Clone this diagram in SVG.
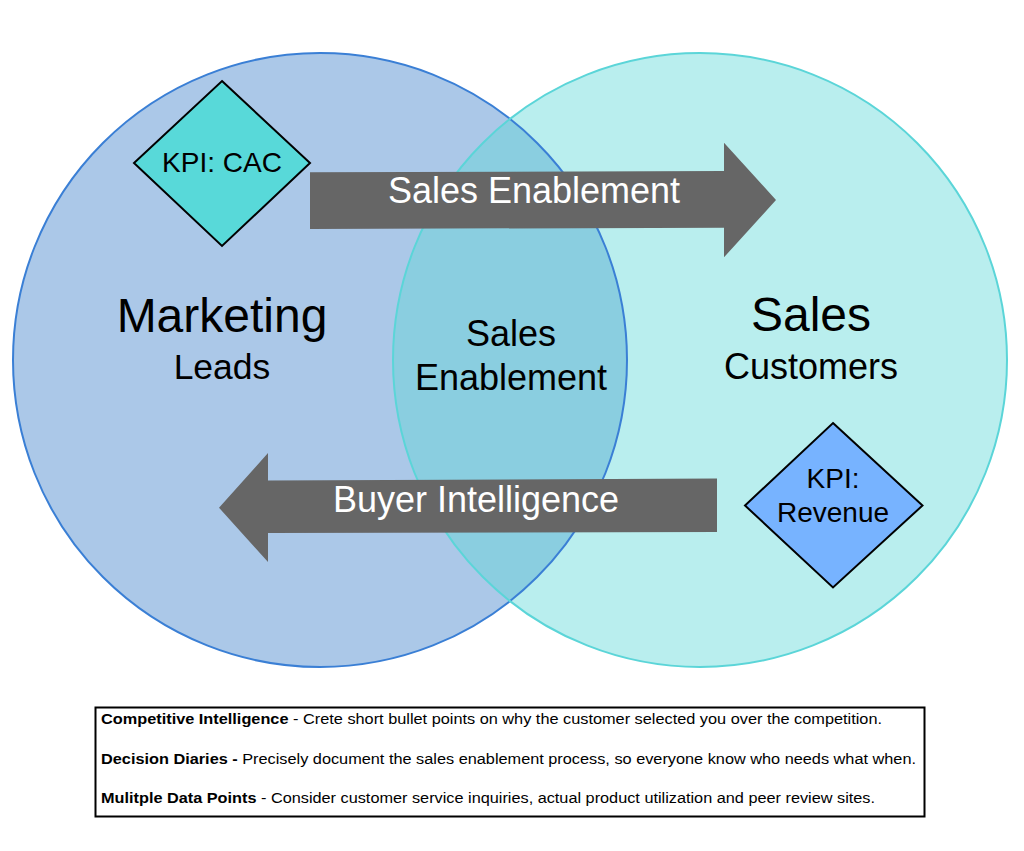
<svg xmlns="http://www.w3.org/2000/svg" width="1024" height="851" viewBox="0 0 1024 851">
<style>
text{font-family:"Liberation Sans",Arial,sans-serif;fill:#000}
.arrow{fill:#666666}
.atxt{fill:#ffffff;font-size:36px;text-anchor:middle}
.big{font-size:48px;text-anchor:middle}
.mid{font-size:36px;text-anchor:middle}
.kpi{font-size:28px;text-anchor:middle}
.dia{stroke:#000;stroke-width:2;stroke-linejoin:miter}
.leg{font-size:15.5px}
.b{font-weight:bold}
</style>
<defs>
<clipPath id="clipL"><circle cx="320" cy="360" r="307"/></clipPath>
</defs>
<rect width="1024" height="851" fill="#ffffff"/>
<g id="marketing-circle">
<circle cx="320" cy="360" r="307" fill="#abc8e8"/>
</g>
<g id="sales-circle">
<circle cx="700" cy="360" r="307" fill="#b9eeee"/>
</g>
<g id="overlap">
<circle cx="700" cy="360" r="307" fill="#8acee0" clip-path="url(#clipL)"/>
<circle cx="320" cy="360" r="307" fill="none" stroke="#3a7fd5" stroke-width="2"/>
<circle cx="700" cy="360" r="307" fill="none" stroke="#5bd5d8" stroke-width="2"/>
</g>
<g id="marketing-label">
<text class="big" x="222" y="332">Marketing</text>
<text class="mid" x="222" y="379" style="font-size:35.5px">Leads</text>
</g>
<g id="sales-label">
<text class="big" x="811" y="331">Sales</text>
<text class="mid" x="811" y="379">Customers</text>
</g>
<g id="overlap-label">
<text class="mid" x="511" y="346">Sales</text>
<text class="mid" x="511" y="390">Enablement</text>
</g>
<g id="connectors">
<g id="sales-enablement-arrow">
<polygon class="arrow" points="310,172.3 724,171 724,142.7 776,200 724,257.3 724,227.7 310,229"/>
<text class="atxt" x="534" y="203">Sales Enablement</text>
</g>
<g id="buyer-intelligence-arrow">
<polygon class="arrow" points="717,478.5 268,480.5 268,453 219,507.7 268,562 268,533 717,532"/>
<text class="atxt" x="476" y="511.5">Buyer Intelligence</text>
</g>
</g>
<g id="kpi-cac">
<polygon class="dia" fill="#58d9d9" points="222,81 310,163 222,246 134,163"/>
<text class="kpi" x="222" y="172">KPI: CAC</text>
</g>
<g id="kpi-revenue">
<polygon class="dia" fill="#77b3ff" points="833,423 922.5,505.5 833,587.5 745,505.5"/>
<text class="kpi" x="833" y="488">KPI:</text>
<text class="kpi" x="833" y="522">Revenue</text>
</g>
<g id="legend">
<rect x="95.5" y="707.5" width="829" height="109" fill="#ffffff" stroke="#000" stroke-width="2"/>
<text class="leg" x="101" y="724" textLength="781" lengthAdjust="spacingAndGlyphs"><tspan class="b">Competitive Intelligence</tspan> - Crete short bullet points on why the customer selected you over the competition.</text>
<text class="leg" x="101" y="764" textLength="815" lengthAdjust="spacingAndGlyphs"><tspan class="b">Decision Diaries -</tspan> Precisely document the sales enablement process, so everyone know who needs what when.</text>
<text class="leg" x="101" y="803" textLength="774" lengthAdjust="spacingAndGlyphs"><tspan class="b">Mulitple Data Points</tspan> - Consider customer service inquiries, actual product utilization and peer review sites.</text>
</g>
</svg>
